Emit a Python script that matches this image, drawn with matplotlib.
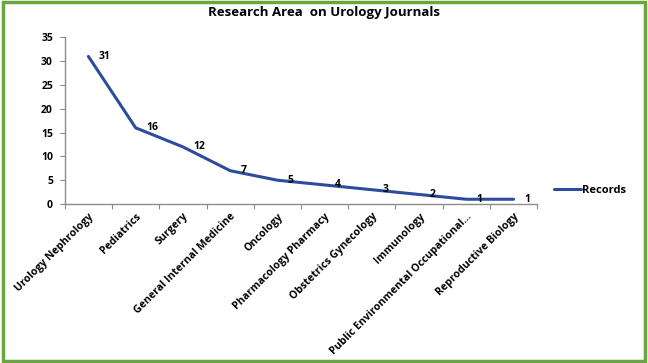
import matplotlib

matplotlib.use("Agg")
import matplotlib.pyplot as plt
from matplotlib.patches import Rectangle

plt.rcParams["font.family"] = ["Open Sans", "DejaVu Sans"]

areas = [
    "Urology Nephrology", "Pediatrics", "Surgery", "General Internal Medicine",
    "Oncology", "Pharmacology Pharmacy", "Obstetrics Gynecology", "Immunology",
    "Public Environmental Occupational...", "Reproductive Biology",
]
records = [31, 16, 12, 7, 5, 4, 3, 2, 1, 1]

LINE_C = "#2b4d9c"
BORDER_C = "#6aa53e"
AXIS_C = "#8c8c8c"

fig = plt.figure(figsize=(6.48, 3.63), dpi=100)
ax = fig.add_axes([0.1, 0.438, 0.729, 0.459])

x = [i + 0.5 for i in range(len(records))]
ax.plot(x, records, color=LINE_C, lw=2.2, label="Records", solid_capstyle="round")
for xi, v in zip(x, records):
    ax.annotate(str(v), (xi, v), xytext=(7.5, 0), textcoords="offset points",
                ha="left", va="center", fontsize=7.5, fontweight="bold")

ax.set_xlim(0, len(records))
ax.set_ylim(0, 35)
ax.set_yticks(range(0, 36, 5))
ax.set_xticks(range(0, len(records) + 1))
ax.set_xticklabels([])
ax.set_xticks(x, minor=True)
ax.set_xticklabels(areas, minor=True, rotation=45, ha="right", va="top",
                   rotation_mode="anchor", fontsize=7.6, fontweight="bold")
ax.tick_params(axis="x", which="minor", length=0, pad=5)
ax.tick_params(axis="x", which="major", length=3.5, color=AXIS_C, direction="out")
ax.tick_params(axis="y", length=3.5, color=AXIS_C, labelsize=7.5, pad=5)
for lbl in ax.get_yticklabels():
    lbl.set_fontweight("bold")
for s in ["top", "right"]:
    ax.spines[s].set_visible(False)
for s in ["left", "bottom"]:
    ax.spines[s].set_color(AXIS_C)
    ax.spines[s].set_linewidth(1.0)

fig.text(0.5, 0.965, "Research Area  on Urology Journals", ha="center", va="center",
         fontsize=9.5, fontweight="bold")

leg = ax.legend(loc="center left", bbox_to_anchor=(1.015, 0.08), frameon=False,
                fontsize=8, handlelength=2.4, handletextpad=0.1)
for t in leg.get_texts():
    t.set_fontweight("bold")

fig.patches.append(Rectangle((0.004, 0.006), 0.992, 0.988, transform=fig.transFigure,
                             fill=False, edgecolor=BORDER_C, lw=2.5))

fig.savefig("out.png", dpi=100)
